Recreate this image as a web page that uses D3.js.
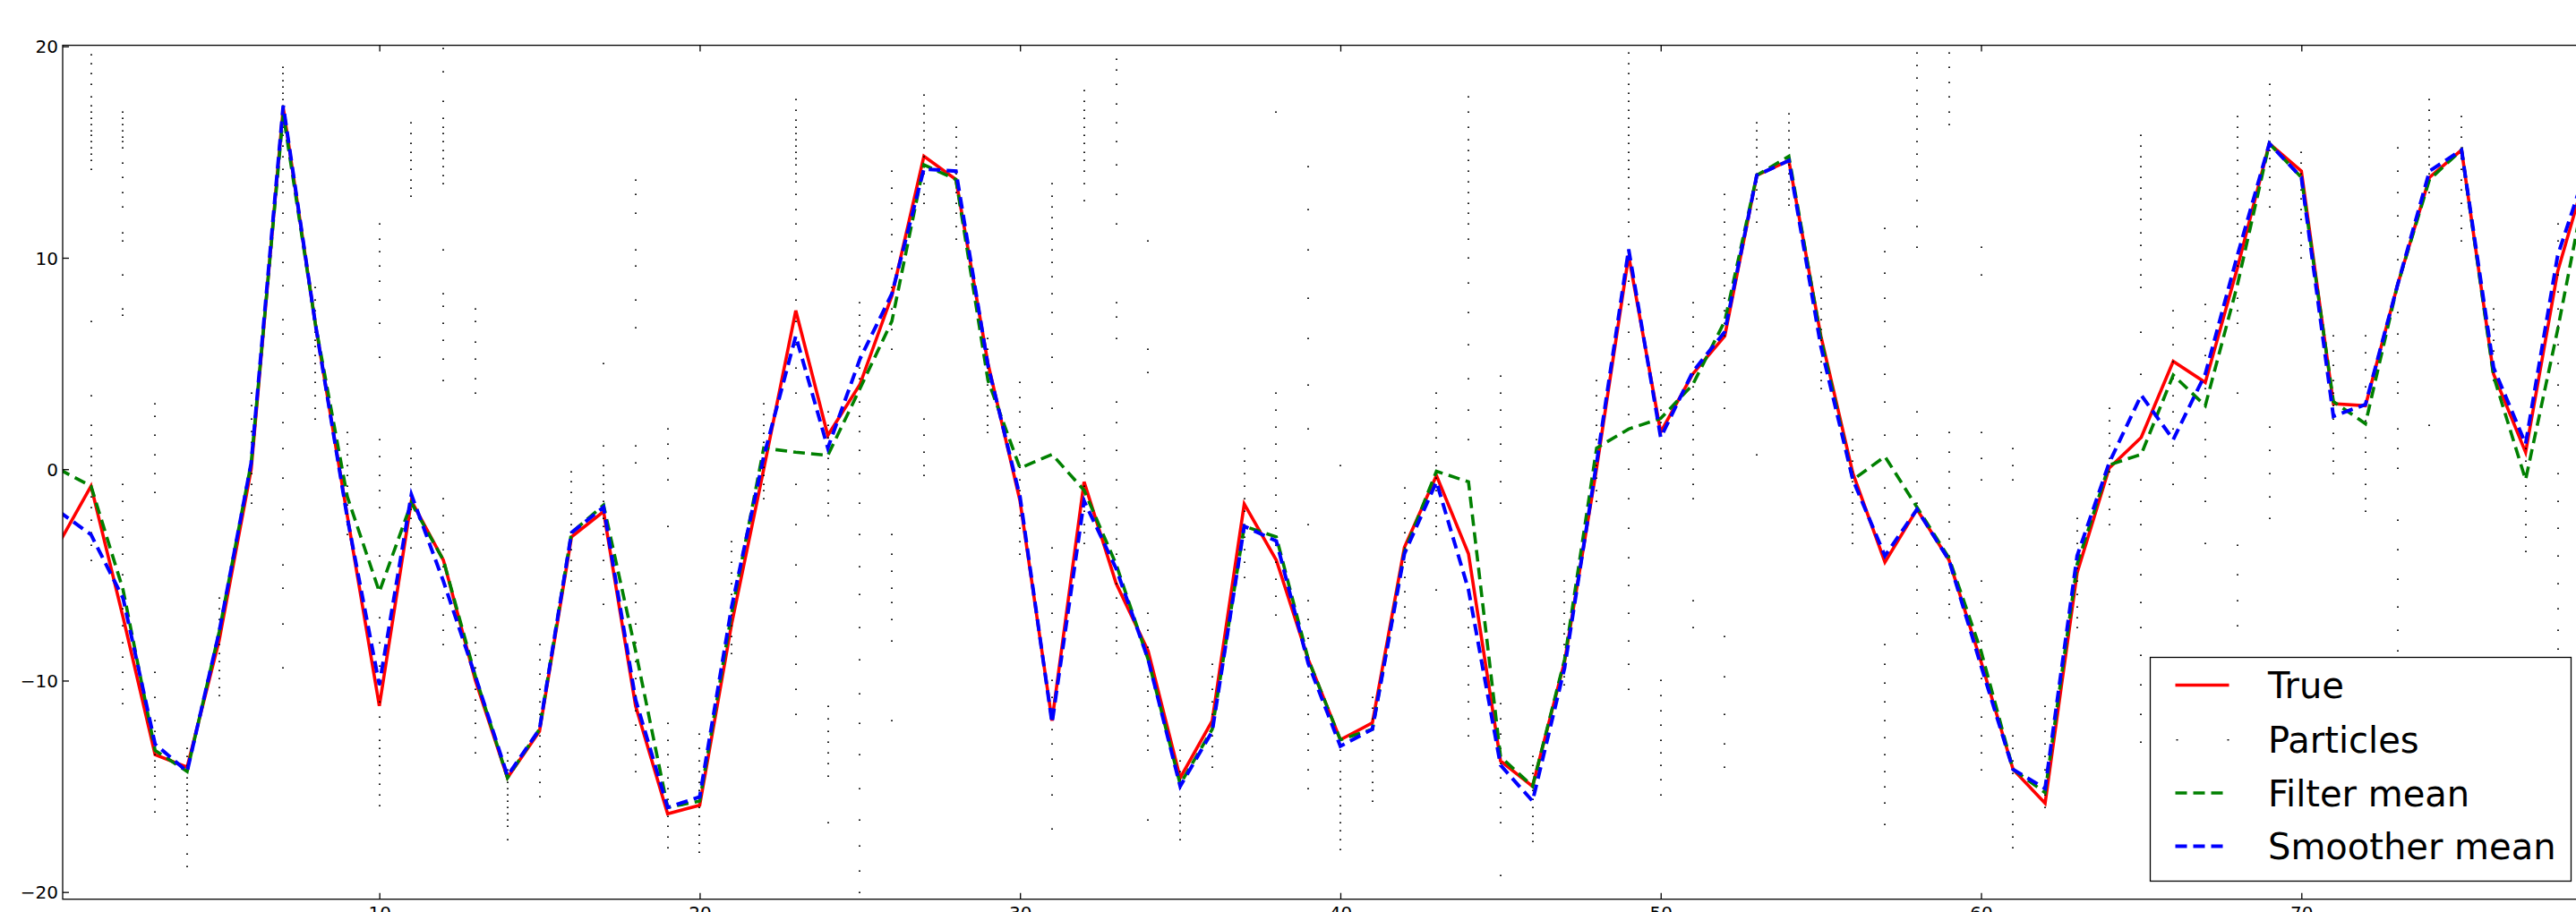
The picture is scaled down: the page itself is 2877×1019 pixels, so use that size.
<!DOCTYPE html>
<html>
<head>
<meta charset="utf-8">
<script src="https://cdn.jsdelivr.net/npm/d3@7"></script>
<style>
html,body{margin:0;padding:0;background:#fff;overflow:hidden;}
svg{display:block;}
text{font-family:"DejaVu Sans",sans-serif;fill:#000;}
</style>
</head>
<body>
<script>
// ---------------- data ----------------
const timeSteps = d3.range(0, 80);
const trueVals = [-3.5,-0.8,-7.0,-13.5,-14.1,-8.1,0.0,17.1,6.9,-2.2,-11.2,-1.5,-4.3,-10.0,-14.6,-12.4,-3.2,-2.0,-11.2,-16.3,-15.9,-7.3,0.0,7.5,1.6,4.0,8.2,14.8,13.7,5.0,-1.5,-11.9,-0.6,-5.4,-8.6,-14.6,-11.9,-1.65,-4.3,-9.0,-12.8,-12.0,-3.7,-0.3,-4.0,-13.8,-15.0,-9.1,0.05,10.1,1.75,4.5,6.3,13.9,14.6,6.3,-0.2,-4.4,-1.9,-4.3,-9.1,-14.2,-15.8,-4.9,0.05,1.5,5.1,4.1,9.5,15.4,14.1,3.1,3.0,8.7,13.8,15.1,4.5,0.8,9.35,14.6];
const filterMean = [0.0,-0.8,-5.7,-13.3,-14.3,-7.7,0.3,16.8,6.9,-1.3,-5.8,-1.6,-4.3,-9.8,-14.6,-12.3,-3.0,-1.7,-8.6,-16.0,-15.7,-6.8,1.0,0.8,0.65,3.8,7.0,14.4,13.7,4.2,0.05,0.7,-1.0,-4.5,-9.0,-14.9,-12.3,-2.7,-3.2,-9.0,-12.8,-12.3,-3.9,-0.1,-0.6,-13.6,-15.0,-9.0,1.0,1.9,2.4,4.0,7.0,13.9,14.8,6.2,-0.5,0.6,-1.8,-4.2,-8.6,-14.2,-15.3,-4.5,0.2,0.7,4.45,3.0,8.7,15.4,13.8,3.2,2.15,8.7,13.7,15.1,4.4,-0.5,6.6,14.4];
const smootherMean = [-2.0,-3.1,-6.1,-13.0,-14.3,-7.7,0.3,17.2,6.9,-2.3,-10.2,-1.2,-5.3,-9.8,-14.5,-12.3,-3.0,-1.8,-10.9,-16.0,-15.5,-6.5,0.6,6.3,1.0,5.2,8.3,14.2,14.1,4.9,-1.3,-12.0,-1.5,-4.7,-9.0,-15.0,-12.4,-2.7,-3.4,-9.2,-13.1,-12.3,-4.0,-0.6,-5.7,-14.0,-15.7,-9.4,0.3,10.4,1.5,4.6,6.5,13.9,14.6,5.8,-0.5,-4.1,-1.9,-4.3,-9.3,-14.2,-15.1,-4.1,0.3,3.5,1.4,4.5,10.1,15.4,13.8,2.5,3.06,8.7,14.1,15.1,4.8,1.2,10.1,14.7];
// particle values per time step (index = time step)
const particleValues = [
[-3.0,-1.5,0.0,1.2],
[19.6,19.2,18.7,18.2,17.6,17.2,16.9,16.6,16.3,16.0,15.8,15.5,15.2,14.9,14.6,14.2,7.0,3.5,2.1,1.6,1.0,0.6,0.2,-0.3,-0.8,-1.3,-1.8,-2.4,-3.0,-3.6,-4.3],
[16.9,16.6,16.3,16.0,15.7,15.5,15.2,14.5,13.8,13.1,12.4,11.2,10.8,9.2,7.6,7.3,-0.7,-1.5,-2.4,-3.2,-4.0,-5.0,-5.8,-6.6,-7.4,-8.2,-8.9,-9.6,-10.4,-11.1],
[3.1,2.5,1.6,0.7,-0.2,-1.1,-9.6,-10.8,-11.9,-12.4,-12.8,-13.2,-13.5,-13.8,-14.1,-14.5,-15.0,-15.6,-16.2],
[-13.2,-13.6,-14.0,-14.3,-14.6,-14.9,-15.2,-15.5,-15.8,-16.1,-16.4,-16.8,-17.3,-18.2,-18.8],
[-6.1,-6.6,-7.1,-7.5,-7.9,-8.3,-8.7,-9.1,-9.5,-9.9,-10.3,-10.7],
[3.6,3.0,2.4,1.8,1.3,0.8,0.3,-0.2,-0.7,-1.2,-1.6],
[19.0,18.7,18.4,18.1,17.8,17.5,17.2,16.9,16.6,16.2,15.8,15.3,14.8,14.2,13.6,13.1,12.1,11.2,9.8,8.7,7.1,6.4,5.0,3.6,2.2,1.0,-0.4,-1.9,-2.6,-4.5,-5.6,-7.3,-9.4],
[8.6,8.0,7.5,7.1,6.8,6.5,6.1,5.8,5.4,5.0,4.6,4.1,3.5,2.9,2.4],
[1.75,1.2,0.7,0.2,-0.3,-0.8,-1.2,-1.7,-2.1,-2.6,-3.1],
[11.6,10.9,10.3,9.6,8.9,8.0,6.9,5.3,1.4,0.6,-0.3,-1.0,-1.8,-4.1,-5.6,-7.0,-8.2,-9.3,-10.2,-11.0,-11.7,-12.3,-12.8,-13.2,-13.6,-14.0,-14.4,-14.9,-15.4,-15.9],
[16.4,15.9,15.4,15.0,14.6,14.2,13.7,13.3,12.9,1.0,0.5,0.1,-0.3,-0.7,-1.1,-1.5,-1.9,-2.3,-2.8,-3.2,-3.7],
[19.9,18.8,17.4,16.6,16.2,15.9,15.5,15.1,14.7,14.3,13.9,13.5,10.4,8.3,7.7,6.9,6.1,5.2,4.2,-1.4,-2.2,-3.0,-3.8,-4.6,-5.3,-6.1,-6.9,-7.6,-8.3],
[7.6,7.0,6.0,5.2,4.3,3.6,-7.5,-8.2,-8.8,-9.4,-9.9,-10.4,-10.9,-11.4,-12.0,-12.7,-13.4],
[-13.4,-13.8,-14.2,-14.5,-14.8,-15.1,-15.4,-15.7,-16.0,-16.3,-16.6,-16.9,-17.5],
[-8.3,-9.0,-9.7,-10.4,-11.0,-11.6,-12.1,-12.6,-13.1,-13.6,-14.2,-14.8,-15.5],
[-0.1,-0.6,-1.1,-1.6,-2.1,-2.6,-3.0,-3.4,-3.8,-4.3,-4.8,-5.3],
[5.0,1.1,0.2,-0.3,-0.7,-1.1,-1.5,-1.9,-2.3,-2.7,-3.1,-3.6,-4.3,-5.2,-6.4],
[13.7,13.0,12.1,10.4,9.6,8.0,6.7,1.1,0.3,-5.4,-6.3,-7.3,-8.2,-9.1,-9.9,-10.7,-11.4,-12.1,-12.8,-13.5,-14.3],
[1.9,1.2,0.5,-0.5,-2.7,-12.0,-12.8,-13.5,-14.1,-14.6,-15.1,-15.6,-16.0,-16.4,-16.9,-17.4,-17.9],
[-12.5,-13.2,-13.8,-14.3,-14.8,-15.2,-15.6,-16.0,-16.4,-16.8,-17.3,-17.7,-18.1],
[-3.4,-3.9,-4.4,-4.9,-5.4,-5.9,-6.4,-6.9,-7.4,-7.9,-8.3,-8.7],
[3.1,2.6,2.1,1.7,1.3,0.9,0.5,0.1,-0.3,-0.7,-1.0,-1.4],
[17.5,17.0,16.5,16.2,15.9,15.6,15.3,15.0,14.7,14.4,14.0,13.6,13.0,12.3,11.6,10.8,9.9,9.0,8.0,7.0,5.9,4.8,3.6,-0.7,-2.6,-4.5,-6.3,-7.9,-9.2,-10.4,-11.6],
[2.7,2.1,1.5,1.0,0.5,0.0,-0.5,-1.0,-1.6,-2.2,-11.2,-11.8,-12.4,-12.9,-13.4,-13.9,-14.5,-16.7],
[7.9,7.3,6.8,6.3,5.8,5.3,4.8,4.3,3.8,3.2,2.5,1.8,0.9,-0.2,-1.6,-3.1,-4.6,-5.9,-7.5,-9.0,-10.6,-12.0,-13.5,-15.1,-16.6,-17.8,-19.0,-20.0],
[14.1,13.3,12.6,11.8,11.1,10.3,9.5,8.6,7.6,6.6,5.7,-3.1,-4.0,-4.8,-5.6,-6.3,-7.1,-8.1,-11.9],
[17.7,17.2,16.8,16.4,16.0,15.6,15.2,14.8,14.4,14.0,13.5,13.0,12.6,2.4,1.6,0.8,0.2,-0.3],
[16.2,15.7,15.2,14.8,14.4,14.0,13.6,13.1,12.6,12.1,11.5,10.9],
[6.2,5.7,5.2,4.8,4.4,4.0,3.5,3.0,2.5,2.1,1.75],
[4.1,3.4,2.7,2.0,1.3,0.7,0.1,-0.5,-1.0,-1.6,-2.2,-2.8,-3.4,-4.0],
[13.5,12.9,12.4,11.9,11.4,10.9,10.4,9.8,9.1,8.3,7.4,6.4,5.3,4.1,2.9,-3.7,-4.8,-5.9,-6.8,-7.7,-10.0,-10.8,-11.6,-12.3,-13.0,-13.7,-14.5,-15.4,-17.0],
[17.9,17.4,17.0,16.6,16.2,15.8,15.4,15.0,14.6,14.1,13.5,12.7,1.6,1.0,0.4,-0.2,-0.8,-1.4,-2.0,-2.6,-3.0,-3.5],
[19.4,18.9,18.2,17.3,16.4,15.5,14.4,13.0,11.6,7.9,7.2,6.2,3.2,2.2,0.9,-0.5,-1.8,-2.6,-3.3,-4.0,-4.7,-5.4,-6.1,-6.8,-7.5,-8.1,-8.7],
[10.8,5.7,4.6,-6.8,-7.6,-8.4,-9.1,-9.8,-10.5,-11.2,-11.9,-12.6,-13.3,-16.6],
[-13.3,-13.8,-14.3,-14.7,-15.1,-15.5,-15.9,-16.3,-16.7,-17.1,-17.5],
[-9.2,-9.8,-10.4,-11.0,-11.6,-12.1,-12.6,-13.1,-13.6,-14.1],
[1.0,0.4,-0.2,-0.8,-1.4,-2.0,-2.6,-3.2,-3.8,-4.4,-5.1],
[16.9,3.6,2.8,2.0,1.2,0.4,-0.4,-1.2,-2.0,-2.8,-3.6,-4.4,-5.2,-6.0,-6.9],
[14.3,12.3,10.4,8.1,6.2,4.0,1.9,-2.6,-6.2,-7.1,-8.0,-8.9,-9.8,-10.7,-11.6,-12.5,-13.3,-14.2,-15.1],
[0.2,-13.3,-13.8,-14.3,-14.7,-15.1,-15.5,-15.9,-16.3,-16.7,-17.1,-17.5,-18.0],
[-10.8,-11.3,-11.8,-12.3,-12.8,-13.3,-13.8,-14.3,-14.8,-15.2,-15.7],
[-0.9,-1.6,-2.3,-3.0,-3.7,-4.4,-5.1,-5.8,-6.5,-7.0,-7.5],
[3.6,2.9,2.2,1.5,0.8,0.2,-0.4,-1.0,-1.6,-2.2,-2.7,-3.1,-5.7],
[17.6,16.9,16.2,15.6,15.1,14.6,14.1,13.6,13.1,12.6,12.1,11.6,10.9,10.0,8.8,7.4,5.9,4.3,2.8,1.4,-5.7,-6.6,-7.5,-8.4,-9.3,-10.2,-11.0,-11.8,-12.6],
[4.4,3.6,2.8,2.0,1.2,0.4,-0.6,-1.6,-11.1,-11.8,-12.5,-13.2,-13.9,-14.6,-15.3,-16.0,-16.7,-19.2],
[-13.6,-14.0,-14.4,-14.8,-15.2,-15.6,-16.0,-16.4,-16.8,-17.2,-17.6],
[-5.3,-5.8,-6.3,-6.8,-7.3,-7.8,-8.3,-8.8,-9.3,-9.8,-10.2],
[4.2,3.5,2.8,2.1,1.4,0.8,0.2,-0.4,-1.0,-1.5],
[19.7,19.2,18.7,18.2,17.8,17.4,17.0,16.6,16.2,15.8,15.4,15.0,14.6,14.2,13.8,13.3,12.8,12.3,11.7,11.0,10.0,8.9,7.8,6.5,5.2,3.9,2.6,1.3,0.0,-1.4,-2.8,-4.2,-5.5,-6.8,-8.1,-9.2,-10.4],
[4.6,4.0,3.4,2.8,2.2,1.6,1.0,0.5,0.05,-10.0,-10.7,-11.4,-12.1,-12.8,-13.4,-14.0,-14.7,-15.4],
[7.9,7.2,6.5,5.8,5.1,4.5,3.9,3.3,2.7,2.1,1.4,0.7,0.0,-0.7,-1.4,-6.2,-7.5],
[13.0,12.3,11.7,11.1,10.5,9.9,9.3,8.7,8.1,7.5,6.9,6.3,5.6,4.9,4.1,2.9,-7.9,-9.8,-11.6,-13.0,-14.1],
[16.4,16.0,15.6,15.2,14.8,14.4,14.0,13.6,13.2,12.8,12.3,11.7,0.7],
[16.8,16.4,16.0,15.6,15.2,14.8,14.4,14.0,13.6,13.2,12.8,12.5],
[9.1,8.6,8.1,7.6,7.1,6.6,6.1,5.6,5.1,4.6,4.2,3.8],
[1.4,0.9,0.4,-0.1,-0.6,-1.1,-1.6,-2.1,-2.6,-3.0,-3.5],
[11.4,10.3,9.3,8.1,7.0,5.8,4.5,3.2,1.6,-0.9,-1.6,-2.3,-3.1,-8.3,-9.2,-10.1,-11.0,-11.9,-12.7,-13.5,-14.3,-15.0,-15.8,-16.8],
[19.7,19.1,18.5,17.9,17.3,16.7,16.1,15.5,14.9,14.3,13.7,12.7,11.5,10.5,2.7,1.6,0.5,-0.6,-1.6,-2.6,-3.6,-4.6,-5.7,-6.8,-7.8],
[19.7,19.0,18.3,17.6,16.9,16.3,1.75,0.8,-0.1,-0.9,-1.7,-2.5,-3.3,-4.1,-4.9,-5.7,-6.4,-7.0],
[10.5,9.2,1.75,0.5,-0.5,-5.3,-6.3,-7.2,-8.1,-9.0,-9.9,-10.8,-11.7,-12.6,-13.4,-14.2],
[1.0,0.2,-0.5,-12.6,-13.2,-13.8,-14.4,-15.0,-15.6,-16.2,-16.8,-17.4,-17.9],
[-11.2,-11.8,-12.4,-13.0,-13.6,-14.2,-14.8,-15.4,-16.0],
[-2.3,-2.9,-3.5,-4.1,-4.7,-5.3,-5.9,-6.5,-7.0,-7.5],
[2.9,2.3,1.7,1.1,0.5,-0.1,-0.7,-1.3,-1.9,-2.6],
[15.8,15.3,14.8,14.3,13.8,13.3,12.8,12.3,11.8,11.2,10.6,9.9,9.2,8.6,6.5,4.5,-0.5,-1.5,-2.6,-3.8,-5.0,-6.3,-7.5,-8.8,-10.2,-11.6,-12.9],
[7.5,6.7,5.9,5.1,4.3,3.5,2.7,1.9,1.1,0.3,-0.7],
[7.8,7.0,6.2,5.4,4.6,3.8,3.0,2.2,1.4,0.6,-0.4,-1.5,-3.5],
[16.7,16.2,15.7,15.2,14.6,14.0,13.4,12.8,12.2,11.6,11.0,10.3,9.6,8.9,8.1,7.5,6.9,3.6,-3.6,-5.0,-6.2,-7.4],
[18.2,17.7,17.2,16.7,16.3,15.9,15.5,15.1,14.7,14.3,13.8,13.2,12.4,2.0,0.9,-0.2,-1.3,-2.3],
[15.0,14.5,14.0,13.6,13.2,12.8,12.3,11.8,11.2,10.6,10.0],
[6.3,5.6,4.9,4.2,3.6,3.0,2.4,1.7,1.0,0.4,-0.2],
[6.3,5.5,4.7,3.9,3.1,2.3,1.5,0.8,0.0,-0.7,-1.4,-2.0],
[15.2,14.1,13.1,12.0,11.0,9.9,8.7,7.4,6.4,5.5,4.1,3.6,1.9,1.0,0.05,-2.4,-3.8,-5.2,-6.5,-7.6,-8.6],
[17.5,17.0,16.5,16.0,15.6,15.2,14.8,14.4,14.0,13.6,13.1,2.1],
[16.7,16.2,15.7,15.2,14.7,14.2,13.7,13.2,12.6,12.0,11.4,10.8],
[7.6,7.1,6.6,6.1,5.6,5.1,4.6,4.2],
[1.0,0.4,-0.2,-0.8,-1.4,-2.0,-2.6,-3.2,-3.9],
[11.6,10.8,10.0,9.2,8.4,7.6,6.8,5.9,5.0,4.0,3.0,2.1,-0.2,-1.5,-2.8,-4.1,-5.4,-6.6,-7.6,-8.5]
];
const xTickValues = [10,20,30,40,50,60,70,80];
const yTickValues = [20,10,0,-10,-20];
const legendLabels = ["True","Particles","Filter mean","Smoother mean"];

// ---------------- layout ----------------
const W = 2877, H = 1019;
const plotLeft = 70, plotTop = 50.6, plotBottom = 1004.7;
const xDomain = [0.115, 80];
const plotRight = 65.9 + 80 * 35.777;

const svg = d3.select("body").append("svg").attr("width", W).attr("height", H);

const x = d3.scaleLinear().domain(xDomain).range([plotLeft, plotRight]);
const y = d3.scaleLinear().domain([-20.34, 20.05]).range([plotBottom, plotTop]);

svg.append("defs").append("clipPath").attr("id","plotclip")
  .append("rect").attr("x", plotLeft).attr("y", plotTop).attr("width", plotRight - plotLeft).attr("height", plotBottom - plotTop);

const plot = svg.append("g").attr("clip-path","url(#plotclip)");

const line = d3.line().x((d,i)=>x(timeSteps[i])).y(d=>y(d));

// True
plot.append("path").datum(trueVals).attr("d", line)
  .attr("fill","none").attr("stroke","#ff0000").attr("stroke-width",3.6).attr("stroke-linejoin","miter");

// Particles
const pts = [];
particleValues.forEach((arr, t) => arr.forEach(v => pts.push([timeSteps[t], v])));
plot.append("g").selectAll("rect").data(pts).join("rect")
  .attr("x", d => Math.round(x(d[0])) - 1)
  .attr("y", d => Math.round(y(d[1])) - 0.5)
  .attr("width", 2).attr("height", 1.4)
  .attr("fill", "#000");

// Filter mean
plot.append("path").datum(filterMean).attr("d", line)
  .attr("fill","none").attr("stroke","#008000").attr("stroke-width",3.6).attr("stroke-dasharray","13,7");

// Smoother mean
plot.append("path").datum(smootherMean).attr("d", line)
  .attr("fill","none").attr("stroke","#0000ff").attr("stroke-width",4).attr("stroke-dasharray","13,7");

// ---------------- axes ----------------
const fmt = d3.format("d");
const axL = svg.append("g").attr("transform",`translate(${plotLeft},0)`)
  .call(d3.axisLeft(y).tickValues(yTickValues).tickFormat(fmt).tickSizeInner(-7).tickSizeOuter(0).tickPadding(5));
const axB = svg.append("g").attr("transform",`translate(0,${plotBottom})`)
  .call(d3.axisBottom(x).tickValues(xTickValues).tickFormat(fmt).tickSizeInner(-7).tickSizeOuter(0).tickPadding(8.5));
const axT = svg.append("g").attr("transform",`translate(0,${plotTop})`)
  .call(d3.axisTop(x).tickValues(xTickValues).tickFormat("").tickSizeInner(-7).tickSizeOuter(0));
[axL, axB, axT].forEach(a => {
  a.select(".domain").remove();
  a.selectAll(".tick line").attr("stroke","#000").attr("stroke-width",1.3);
  a.selectAll("text").attr("font-family","DejaVu Sans").attr("font-size",20).attr("fill","#000");
});
axL.selectAll("text").attr("dy","0.36em");

// spines
svg.append("rect").attr("x", plotLeft).attr("y", plotTop).attr("width", plotRight - plotLeft).attr("height", plotBottom - plotTop)
  .attr("fill","none").attr("stroke","#000").attr("stroke-width",1.3);

// ---------------- legend ----------------
const lg = svg.append("g");
lg.append("rect").attr("x",2401.5).attr("y",734.5).attr("width",470).attr("height",250)
  .attr("fill","#fff").attr("stroke","#000").attr("stroke-width",1.3);
const rowY = [765.5, 826.5, 886, 945.5];
const hx0 = 2429.5, hx1 = 2489.5;
lg.append("line").attr("x1",hx0).attr("x2",hx1).attr("y1",rowY[0]).attr("y2",rowY[0])
  .attr("stroke","#ff0000").attr("stroke-width",3.6);
[hx0+1, hx1-2].forEach(px => lg.append("rect").attr("x",px).attr("y",rowY[1]-0.5).attr("width",2).attr("height",1.4).attr("fill","#000"));
lg.append("line").attr("x1",hx0).attr("x2",hx1).attr("y1",rowY[2]).attr("y2",rowY[2])
  .attr("stroke","#008000").attr("stroke-width",3.6).attr("stroke-dasharray","13,7");
lg.append("line").attr("x1",hx0).attr("x2",hx1).attr("y1",rowY[3]).attr("y2",rowY[3])
  .attr("stroke","#0000ff").attr("stroke-width",4).attr("stroke-dasharray","13,7");
legendLabels.forEach((t,i) => {
  lg.append("text").attr("x",2533).attr("y",rowY[i]+14.6).attr("font-size",40).text(t);
});
</script>
</body>
</html>
